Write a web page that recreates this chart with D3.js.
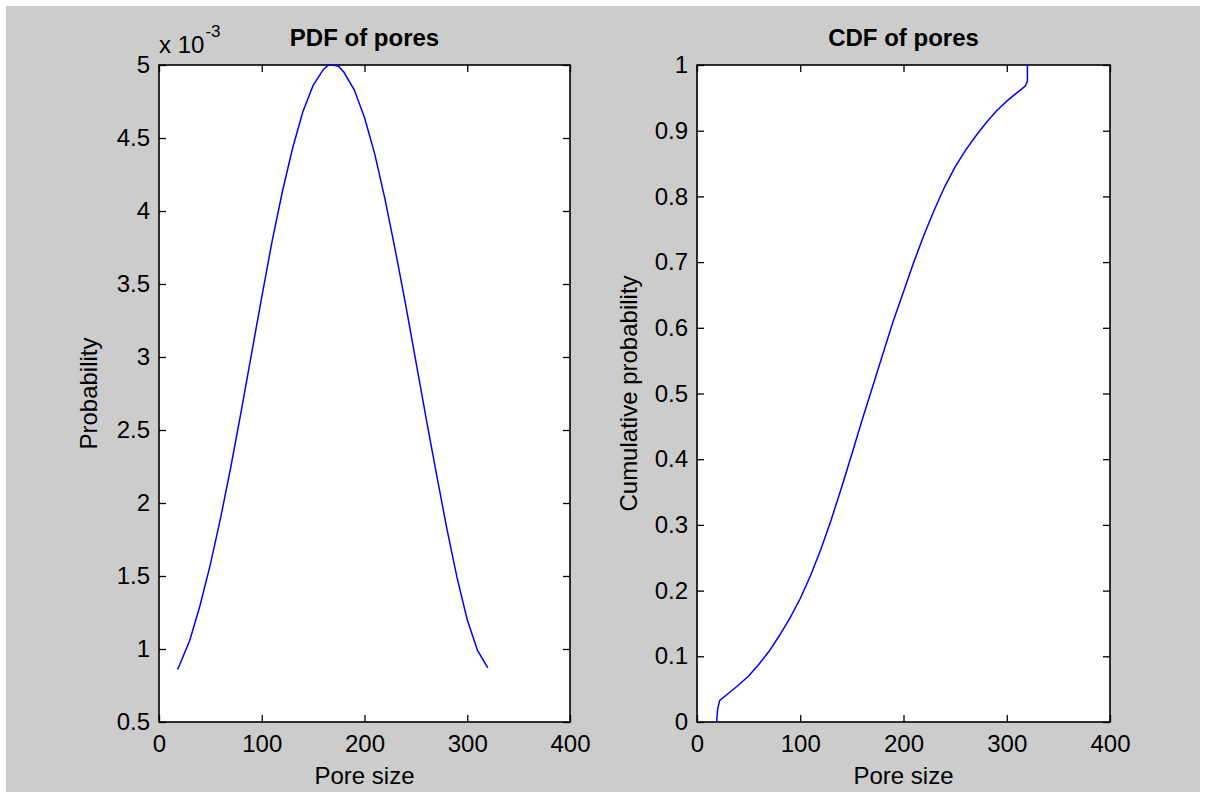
<!DOCTYPE html>
<html>
<head>
<meta charset="utf-8">
<script src="https://cdn.jsdelivr.net/npm/d3@7"></script>
<style>
  body { margin: 0; background: #fff; }
  svg text { font-family: "Liberation Sans", Arial, sans-serif; fill: #000; }
  .tick line { stroke: #000; stroke-width: 1.3; }
  .tick text { font-size: 24px; }
  .box { fill: #fff; stroke: #000; stroke-width: 1.6; }
</style>
</head>
<body>
<svg id="fig" width="1206" height="798"></svg>
<script>
// ---- data ----
let poreSize = [18, 20, 30, 40, 50, 60, 70, 80, 90, 100, 110, 120, 130, 140, 150, 160, 165,
  170, 175, 180, 190, 200, 210, 220, 230, 240, 250, 260, 270, 280, 290, 300, 310, 320];
// probability, in units of 1e-3
let pdfProb = [0.86, 0.89, 1.06, 1.30, 1.58, 1.90, 2.25, 2.63, 3.02, 3.41, 3.79, 4.13, 4.43, 4.68,
  4.86, 4.97, 5.0, 5.0, 4.99, 4.95, 4.83, 4.64, 4.39, 4.08, 3.73, 3.36, 2.97, 2.58, 2.20, 1.83,
  1.49, 1.20, 0.99, 0.87];

let cdfSize = [19, 20, 22, 30, 40, 50, 60, 70, 80, 90, 100, 110, 120, 130, 140, 150, 160, 170,
  180, 190, 200, 210, 220, 230, 240, 250, 260, 270, 280, 290, 300, 310, 318, 320, 320];
let cdfProb = [0, 0.02, 0.033, 0.043, 0.056, 0.07, 0.088, 0.108, 0.132, 0.158, 0.188, 0.223,
  0.263, 0.308, 0.357, 0.408, 0.46, 0.51, 0.56, 0.61, 0.655, 0.70, 0.742, 0.78, 0.815, 0.845,
  0.87, 0.892, 0.912, 0.93, 0.945, 0.958, 0.968, 0.975, 1.0];

let xTicks = [0, 100, 200, 300, 400];
let pdfTicks = [0.5, 1, 1.5, 2, 2.5, 3, 3.5, 4, 4.5, 5];
let cdfTicks = [0, 0.1, 0.2, 0.3, 0.4, 0.5, 0.6, 0.7, 0.8, 0.9, 1];

let svg = d3.select("#fig");
const TICK = 7;

// figure background
svg.append("rect")
  .attr("x", 6).attr("y", 6)
  .attr("width", 1194).attr("height", 786)
  .attr("fill", "#cccccc");

function drawPanel(opt) {
  let g = svg.append("g").attr("transform", `translate(${opt.left},${opt.top})`);
  let w = opt.width, h = opt.height;

  let x = d3.scaleLinear().domain([0, 400]).range([0, w]);
  let y = d3.scaleLinear().domain(opt.yDomain).range([h, 0]);

  g.append("rect").attr("class", "box")
    .attr("width", w).attr("height", h);

  let line = d3.line()
    .x(d => x(d[0]))
    .y(d => y(d[1]))
    .curve(d3.curveLinear);

  g.append("path")
    .datum(d3.zip(opt.xs, opt.ys))
    .attr("fill", "none")
    .attr("stroke", "#0000ff")
    .attr("stroke-width", 1.5)
    .attr("d", line);

  // axes, ticks pointing inward like matlab
  let gx = g.append("g").attr("transform", `translate(0,${h})`)
    .call(d3.axisBottom(x).tickValues(xTicks).tickSizeInner(-TICK).tickSizeOuter(0).tickPadding(12));
  g.append("g")
    .call(d3.axisTop(x).tickValues(xTicks).tickSizeInner(-TICK).tickSizeOuter(0).tickFormat(""));
  let gy = g.append("g")
    .call(d3.axisLeft(y).tickValues(opt.yTicks).tickSizeInner(-TICK).tickSizeOuter(0)
      .tickPadding(9).tickFormat(d3.format("")));
  g.append("g").attr("transform", `translate(${w},0)`)
    .call(d3.axisRight(y).tickValues(opt.yTicks).tickSizeInner(-TICK).tickSizeOuter(0).tickFormat(""));

  g.selectAll(".domain").remove();
  g.selectAll(".tick text").attr("font-family", null).attr("font-size", null);
  gx.selectAll(".tick text").attr("dy", null).attr("y", 30);

  // title + labels
  g.append("text")
    .attr("x", w / 2).attr("y", -19)
    .attr("text-anchor", "middle")
    .style("font-size", "24px").style("font-weight", "bold")
    .text(opt.title);

  g.append("text")
    .attr("x", w / 2).attr("y", h + 62)
    .attr("text-anchor", "middle")
    .style("font-size", "24px")
    .text("Pore size");

  g.append("text")
    .attr("transform", `translate(${opt.ylabelX},${h / 2}) rotate(-90)`)
    .attr("text-anchor", "middle")
    .style("font-size", "24px")
    .text(opt.ylabel);

  return g;
}

let left = drawPanel({
  left: 159, top: 65, width: 411, height: 657,
  xs: poreSize, ys: pdfProb,
  yDomain: [0.5, 5], yTicks: pdfTicks,
  title: "PDF of pores", ylabel: "Probability", ylabelX: -62
});

// exponent label
let ex = left.append("text").attr("x", 0).attr("y", -12).style("font-size", "24px");
ex.append("tspan").text("x 10");
ex.append("tspan").attr("dy", -16).attr("dx", 1).style("font-size", "17px").text("-3");

drawPanel({
  left: 697, top: 65, width: 413, height: 657,
  xs: cdfSize, ys: cdfProb,
  yDomain: [0, 1], yTicks: cdfTicks,
  title: "CDF of pores", ylabel: "Cumulative probability", ylabelX: -60
});
</script>
</body>
</html>
